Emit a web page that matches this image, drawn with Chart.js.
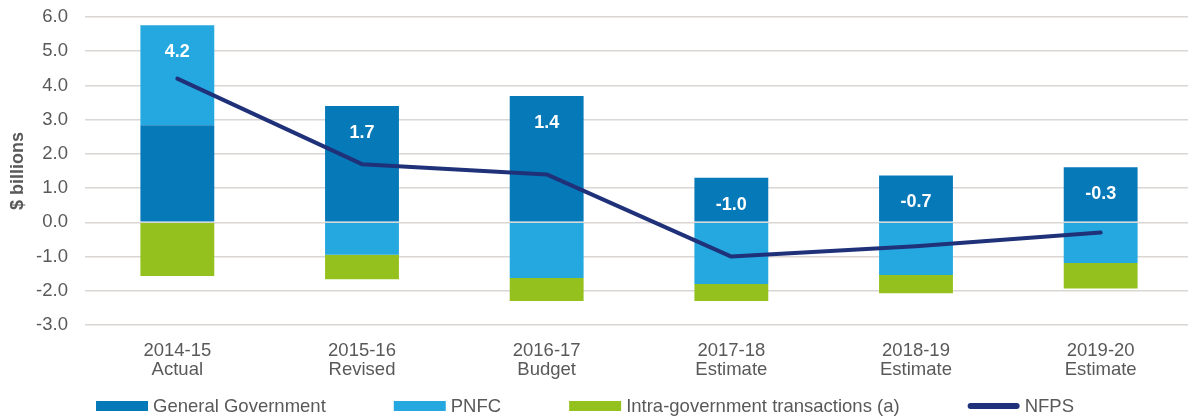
<!DOCTYPE html>
<html>
<head>
<meta charset="utf-8">
<script src="https://cdn.jsdelivr.net/npm/chart.js@4.4.6/dist/chart.umd.js"></script>
<style>
  html, body { margin: 0; padding: 0; background: #fff; overflow: hidden; }
  #wrap { position: relative; width: 1193px; height: 416px; }
</style>
</head>
<body>
<div id="wrap"><canvas id="chart"></canvas></div>
<script>
const years = [
  ['2014-15', 'Actual'],
  ['2015-16', 'Revised'],
  ['2016-17', 'Budget'],
  ['2017-18', 'Estimate'],
  ['2018-19', 'Estimate'],
  ['2019-20', 'Estimate']
];
const generalGov = [2.84, 3.40, 3.69, 1.30, 1.37, 1.61];
const pnfc = [2.92, -0.95, -1.63, -1.80, -1.54, -1.19];
const intraGov = [-1.57, -0.71, -0.67, -0.50, -0.53, -0.74];
const nfps = [4.2, 1.7, 1.4, -1.0, -0.7, -0.3];
const yMin = -3;
const yMax = 6;
const yStep = 1;

const textGrey = '#595959';
const gridGrey = '#dad6d3';
const font = "'Liberation Sans', Arial, sans-serif";

// NFPS totals written in white near the top of each bar
const valueLabels = {
  id: 'valueLabels',
  afterDatasetsDraw(chart) {
    const { ctx } = chart;
    const x = chart.scales.x;
    const y = chart.scales.y;
    ctx.save();
    ctx.fillStyle = '#fff';
    ctx.font = `bold 18px ${font}`;
    ctx.textAlign = 'center';
    ctx.textBaseline = 'middle';
    nfps.forEach((v, i) => {
      const top = [generalGov[i], pnfc[i], intraGov[i]]
        .filter((n) => n > 0)
        .reduce((a, b) => a + b, 0);
      ctx.fillText(v.toFixed(1), x.getPixelForValue(i), y.getPixelForValue(top) + 27);
    });
    ctx.restore();
  }
};

// legend row along the bottom
const bottomLegend = {
  id: 'bottomLegend',
  afterDraw(chart) {
    const { ctx } = chart;
    const sw = 52;
    const gapText = 5;
    const gapItem = 68;
    const cy = 406;
    ctx.save();
    ctx.font = `18.5px ${font}`;
    const items = chart.data.datasets.map((ds) => ({
      text: ds.label,
      color: ds.type === 'line' ? ds.borderColor : ds.backgroundColor,
      line: ds.type === 'line',
      w: ctx.measureText(ds.label).width
    }));
    const total = items.reduce((s, it) => s + sw + gapText + it.w, 0) + gapItem * (items.length - 1);
    let cx = 585 - total / 2;
    ctx.textBaseline = 'middle';
    items.forEach((it) => {
      if (it.line) {
        ctx.strokeStyle = it.color;
        ctx.lineWidth = 6;
        ctx.lineCap = 'round';
        ctx.beginPath();
        ctx.moveTo(cx + 3, cy);
        ctx.lineTo(cx + sw - 3, cy);
        ctx.stroke();
      } else {
        ctx.fillStyle = it.color;
        ctx.fillRect(cx, cy - 5, sw, 10);
      }
      ctx.fillStyle = textGrey;
      ctx.fillText(it.text, cx + sw + gapText, cy + 1);
      cx += sw + gapText + it.w + gapItem;
    });
    ctx.restore();
  }
};

new Chart(document.getElementById('chart'), {
  type: 'bar',
  data: {
    labels: years,
    datasets: [
      { label: 'General Government', data: generalGov, backgroundColor: '#0679b9', stack: 'nfps' },
      { label: 'PNFC', data: pnfc, backgroundColor: '#25a8e0', stack: 'nfps' },
      { label: 'Intra-government transactions (a)', data: intraGov, backgroundColor: '#95c11f', stack: 'nfps' },
      {
        type: 'line',
        label: 'NFPS',
        data: nfps,
        borderColor: '#1f3179',
        borderWidth: 4,
        borderCapStyle: 'round',
        borderJoinStyle: 'round',
        pointRadius: 0,
        tension: 0,
        stack: 'line',
        order: -1
      }
    ]
  },
  options: {
    responsive: true,
    maintainAspectRatio: false,
    animation: false,
    datasets: { bar: { barPercentage: 0.4, categoryPercentage: 1.0 } },
    layout: { padding: { top: 17, left: 0, right: 0, bottom: 0 } },
    scales: {
      x: {
        stacked: true,
        grid: { display: false },
        border: { display: false },
        ticks: {
          color: textGrey,
          font: { family: font, size: 18.5, lineHeight: 1.0 },
          padding: 9,
          maxRotation: 0,
          autoSkip: false
        },
        afterFit: (scale) => { scale.height = 91; }
      },
      y: {
        stacked: true,
        min: yMin,
        max: yMax,
        grid: { color: gridGrey, lineWidth: 1.5, drawTicks: false },
        border: { display: false },
        ticks: {
          stepSize: yStep,
          color: textGrey,
          font: { family: font, size: 18.5 },
          padding: 17,
          callback: (v) => Number(v).toFixed(1)
        },
        title: {
          display: true,
          text: '$ billions',
          color: textGrey,
          font: { family: font, size: 18, weight: 'bold' },
          padding: { top: 7, bottom: 0 }
        },
        afterFit: (scale) => {
          scale.width = 85;
          scale.paddingTop = 0;
          scale.paddingBottom = 0;
        }
      }
    },
    plugins: {
      legend: { display: false },
      tooltip: { enabled: false }
    }
  },
  plugins: [valueLabels, bottomLegend]
});
</script>
</body>
</html>
